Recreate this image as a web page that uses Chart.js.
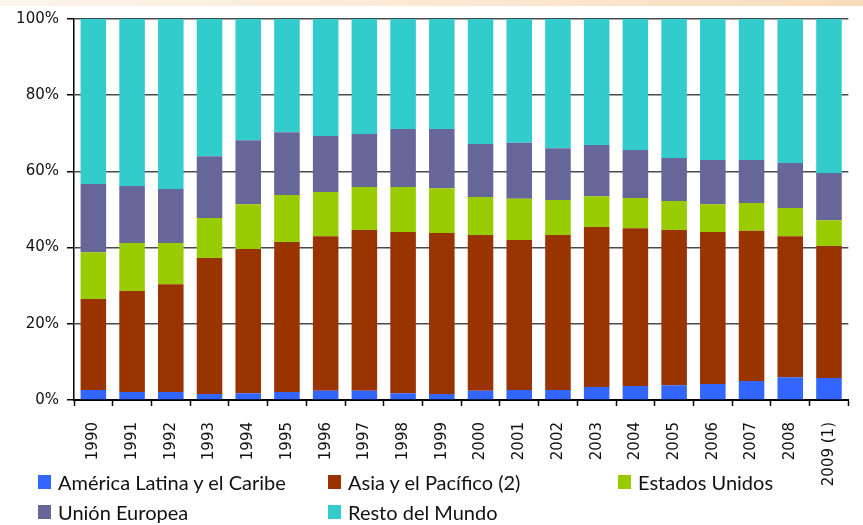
<!DOCTYPE html>
<html>
<head>
<meta charset="utf-8">
<script src="https://cdn.jsdelivr.net/npm/chart.js@4"></script>
<style>
  html, body { margin: 0; padding: 0; background: #fff; }
  #wrap { position: relative; width: 863px; height: 525px; overflow: hidden; }
  #band { position: absolute; left: 0; top: 0; width: 863px; height: 6px;
          background: linear-gradient(to right, #fdf5ec, #fbe6cf 60%, #f8dcbc); }
  #legend { position: absolute; left: 0; top: 0; width: 863px; height: 525px; pointer-events: none;
            font-family: Lato, "Liberation Sans", sans-serif; font-size: 20px; color: #111; }
  .item { position: absolute; height: 20px; line-height: 20px; white-space: nowrap; }
  .item span.box { position: absolute; left: 0; top: 3px; width: 13px; height: 14px; }
  .item span.txt { position: absolute; left: 20px; top: 0; }
</style>
</head>
<body>
<div id="wrap">
  <div id="band"></div>
  <canvas id="chart" width="863" height="525"></canvas>
  <div id="legend"></div>
</div>
<script>
var years = ["1990", "1991", "1992", "1993", "1994", "1995", "1996", "1997", "1998", "1999",
             "2000", "2001", "2002", "2003", "2004", "2005", "2006", "2007", "2008", "2009 (1)"];

var americaLatina = [2.6, 2.1, 2.1, 1.6, 1.8, 2.1, 2.4, 2.4, 1.8, 1.6, 2.4, 2.6, 2.6, 3.4, 3.7, 3.9, 4.2, 5.0, 6.0, 5.8];
var asiaPacifico  = [23.9, 26.5, 28.3, 35.7, 37.8, 39.4, 40.6, 42.2, 42.3, 42.2, 40.9, 39.4, 40.7, 42.0, 41.4, 40.7, 39.9, 39.4, 37.0, 34.6];
var estadosUnidos = [12.3, 12.6, 10.8, 10.5, 11.8, 12.3, 11.6, 11.3, 11.8, 11.8, 10.0, 10.8, 9.2, 8.1, 7.9, 7.6, 7.3, 7.3, 7.4, 6.8];
var unionEuropea  = [17.9, 15.0, 14.2, 16.2, 16.8, 16.5, 14.7, 13.9, 15.2, 15.5, 13.9, 14.7, 13.6, 13.4, 12.6, 11.3, 11.6, 11.3, 11.8, 12.4];
var restoMundo    = [43.3, 43.8, 44.6, 36.0, 31.8, 29.7, 30.7, 30.2, 28.9, 28.9, 32.8, 32.5, 33.9, 33.1, 34.4, 36.5, 37.0, 37.0, 37.8, 40.4];

var yTicks = [0, 20, 40, 60, 80, 100];

var series = [
  { label: "América Latina y el Caribe", data: americaLatina, color: "#3366ff" },
  { label: "Asia y el Pacífico (2)",     data: asiaPacifico,  color: "#993300" },
  { label: "Estados Unidos",             data: estadosUnidos, color: "#99cc00" },
  { label: "Unión Europea",              data: unionEuropea,  color: "#666699" },
  { label: "Resto del Mundo",            data: restoMundo,    color: "#33cccc" }
];

var datasets = series.map(function(s) {
  return {
    label: s.label,
    data: s.data,
    backgroundColor: s.color,
    borderWidth: 0,
    barPercentage: 0.66,
    categoryPercentage: 1.0
  };
});

var tickFont = { family: "'DejaVu Sans', Verdana, sans-serif", size: 15 };

new Chart(document.getElementById("chart"), {
  type: "bar",
  data: { labels: years, datasets: datasets },
  options: {
    responsive: false,
    animation: false,
    layout: { padding: { top: 19, right: 1, left: 0, bottom: 0 } },
    plugins: { legend: { display: false }, tooltip: { enabled: false } },
    scales: {
      x: {
        stacked: true,
        afterFit: function(scale) { scale.height = 125; },
        border: { color: "#000", width: 2 },
        grid: { display: true, drawOnChartArea: false, drawTicks: true, tickLength: 6, tickColor: "#000", tickWidth: 1.5 },
        ticks: { autoSkip: false, maxRotation: 90, minRotation: 90, padding: 16, color: "#111", font: tickFont }
      },
      y: {
        stacked: true,
        min: 0,
        max: 100,
        afterFit: function(scale) { scale.width = 74; },
        afterBuildTicks: function(scale) {
          scale.ticks = yTicks.map(function(v) { return { value: v }; });
        },
        border: { color: "#000", width: 1.5 },
        grid: { color: "#4a4a4a", lineWidth: 1.5, borderDash: [7, 4], tickLength: 7,
                tickColor: "#000", tickWidth: 1.5, tickBorderDash: [] },
        ticks: { padding: 8, color: "#111", font: tickFont,
                 callback: function(v) { return v + "%"; } }
      }
    }
  }
});

// legend laid out in three columns, two rows
var legendPos = [
  { x: 38, y: 472 }, { x: 328, y: 472 }, { x: 618, y: 472 },
  { x: 38, y: 502 }, { x: 328, y: 502 }
];
var legend = document.getElementById("legend");
series.forEach(function(s, i) {
  var item = document.createElement("div");
  item.className = "item";
  item.style.left = legendPos[i].x + "px";
  item.style.top = legendPos[i].y + "px";
  item.innerHTML = '<span class="box" style="background:' + s.color + '"></span><span class="txt"></span>';
  item.querySelector(".txt").textContent = s.label;
  legend.appendChild(item);
});
</script>
</body>
</html>
